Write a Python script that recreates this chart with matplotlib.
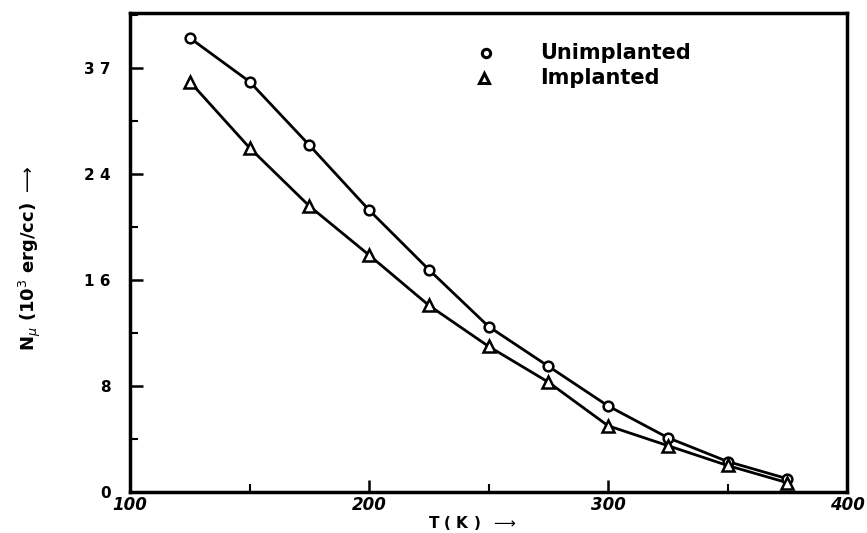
import matplotlib
matplotlib.use("Agg")
import matplotlib.pyplot as plt
from matplotlib.ticker import MultipleLocator, FixedLocator

temperature = [125, 150, 175, 200, 225, 250, 275, 300, 325, 350, 375]
unimplanted = [34.3, 31.0, 26.2, 21.3, 16.8, 12.5, 9.5, 6.5, 4.1, 2.3, 1.0]
implanted = [31.0, 26.0, 21.6, 17.9, 14.1, 11.0, 8.3, 5.0, 3.5, 2.0, 0.7]
xtick_values = [100, 200, 300, 400]
xtick_labels = ["100", "200", "300", "400"]
ytick_values = [0, 8, 16, 24, 32]
ytick_labels = ["0", "8", "1 6", "2 4", "3 7"]

fig = plt.figure(figsize=(8.67, 5.33), dpi=100)
ax = fig.add_axes([0.150, 0.077, 0.827, 0.899])

ax.plot(temperature, unimplanted, color="black", lw=2.0, zorder=2)
ax.plot(temperature, implanted, color="black", lw=2.0, zorder=2)
ax.plot(temperature, unimplanted, ls="none", marker="o", ms=7, mfc="white",
        mec="black", mew=1.8, zorder=3)
ax.plot(temperature, implanted, ls="none", marker="^", ms=8, mfc="white",
        mec="black", mew=1.8, zorder=3)

ax.set_xlim(100, 400)
ax.set_ylim(0, 36.2)

ax.xaxis.set_major_locator(FixedLocator(xtick_values))
ax.set_xticklabels(xtick_labels, fontsize=12, fontweight="bold", fontstyle="italic")
ax.xaxis.set_minor_locator(MultipleLocator(50))
ax.yaxis.set_major_locator(FixedLocator(ytick_values))
ax.set_yticklabels(ytick_labels, fontsize=11, fontweight="bold")
ax.yaxis.set_minor_locator(MultipleLocator(4))

ax.tick_params(axis="both", which="major", direction="in", length=9, width=1.8, pad=6)
ax.tick_params(axis="both", which="minor", direction="in", length=6, width=1.5)
ax.tick_params(axis="x", pad=3)
ax.tick_params(axis="y", pad=14)
for s in ax.spines.values():
    s.set_linewidth(2.5)

# legend drawn as in the original (markers with text)
ax.plot([0.497], [0.917], transform=ax.transAxes, marker="o", ms=6, mfc="white",
        mec="black", mew=2.2, ls="none", clip_on=False)
ax.plot([0.494], [0.864], transform=ax.transAxes, marker="^", ms=7, mfc="white",
        mec="black", mew=2.2, ls="none", clip_on=False)
ax.text(0.572, 0.917, "Unimplanted", transform=ax.transAxes, fontsize=15,
        fontweight="bold", va="center", ha="left")
ax.text(0.572, 0.864, "Implanted", transform=ax.transAxes, fontsize=15,
        fontweight="bold", va="center", ha="left")

fig.text(0.035, 0.515, r"N$_\mu$ (10$^3$ erg/cc) $\longrightarrow$", rotation=90,
         fontsize=13, fontweight="bold", ha="center", va="center")
fig.text(0.545, 0.002, r"T ( K )  $\longrightarrow$", fontsize=11, fontweight="bold",
         ha="center", va="bottom")

fig.savefig("out.png", dpi=100)
